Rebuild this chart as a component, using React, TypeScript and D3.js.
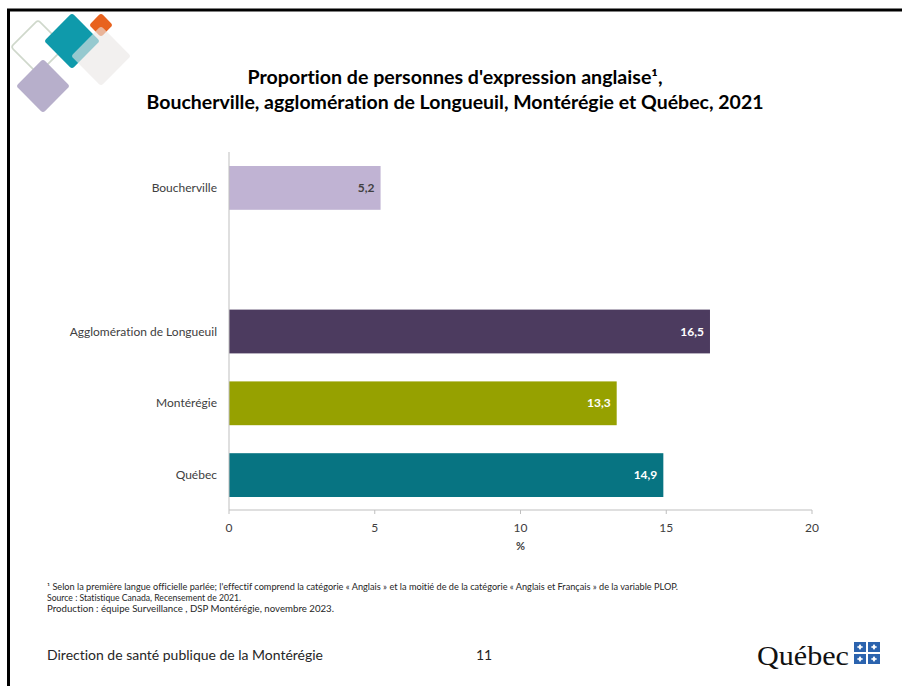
import React from "react";
import * as d3 from "d3";

const categories = ["Boucherville", "", "Agglomération de Longueuil", "Montérégie", "Québec"];
const values: (number | null)[] = [5.2, null, 16.5, 13.3, 14.9];
const valueLabels = ["5,2", "", "16,5", "13,3", "14,9"];
const barColors = ["#C0B3D3", "none", "#4C3B5F", "#96A100", "#077482"];
const labelColors = ["#404040", "none", "#FFFFFF", "#FFFFFF", "#FFFFFF"];
const xTicks = [0, 5, 10, 15, 20];
const titleLines = [
  "Proportion de personnes d'expression anglaise¹,",
  "Boucherville, agglomération de Longueuil, Montérégie et Québec, 2021",
];
const notes = [
  "¹ Selon la première langue officielle parlée; l'effectif comprend la catégorie « Anglais » et la moitié de de la catégorie « Anglais et Français » de la variable PLOP.",
  "Source : Statistique Canada, Recensement de 2021.",
  "Production : équipe Surveillance , DSP Montérégie, novembre 2023.",
];
const footerLeft = "Direction de santé publique de la Montérégie";
const pageNumber = "11";

const W = 902;
const H = 686;
const FONT = "Lato, 'Open Sans', sans-serif";

function Diamond({ cx, cy, r, fill, stroke, opacity, sw }: any) {
  const s = r * Math.SQRT2;
  return (
    <rect
      x={-s / 2}
      y={-s / 2}
      width={s}
      height={s}
      rx={3}
      fill={fill}
      stroke={stroke || "none"}
      strokeWidth={sw || 0}
      opacity={opacity ?? 1}
      transform={`translate(${cx},${cy}) rotate(45)`}
    />
  );
}

export default function App() {
  const x = d3.scaleLinear().domain([0, 20]).range([229, 812]);
  const y = d3
    .scaleBand<string>()
    .domain(categories.map((c, i) => `${i}`))
    .range([152, 511])
    .paddingInner(0.39)
    .paddingOuter(0.195);
  const axisY = 510;

  return (
    <svg
      width={W}
      height={H}
      style={{ position: "absolute", left: 0, top: 0, background: "#fff", fontVariantLigatures: "none" }}
      fontFamily={FONT}
    >
      <rect x={0} y={0} width={W} height={H} fill="#fff" />
      {/* frame */}
      <rect x={8.5} y={10} width={W + 20} height={H + 20} fill="none" stroke="#000" strokeWidth={3} />

      {/* logo */}
      <Diamond cx={38} cy={47} r={27} fill="none" stroke="#CFD8CB" sw={1.6} />
      <Diamond cx={43} cy={86} r={27} fill="#B7AFCB" />
      <Diamond cx={72} cy={41} r={28} fill="#0F9AAB" />
      <Diamond cx={101} cy={25} r={12} fill="#E8621E" />
      <Diamond cx={101} cy={56} r={30} fill="#EAE7E5" opacity={0.62} />

      {/* title */}
      {titleLines.map((t, i) => (
        <text
          key={i}
          x={455}
          y={84 + i * 25}
          textAnchor="middle"
          fontSize={18}
          fontWeight="bold"
          fill="#000"
          textLength={i === 0 ? 415 : 617}
          lengthAdjust="spacingAndGlyphs"
        >
          {t}
        </text>
      ))}

      {/* bars */}
      {categories.map((c, i) => {
        const v = values[i];
        if (v == null) return null;
        const y0 = y(`${i}`)!;
        const bh = y.bandwidth();
        return (
          <g key={i}>
            <rect x={x(0)} y={y0} width={x(v) - x(0)} height={bh} fill={barColors[i]} />
            <text
              x={x(v) - 6}
              y={y0 + bh / 2 + 4}
              textAnchor="end"
              fontSize={12}
              fontWeight="bold"
              fill={labelColors[i]}
            >
              {valueLabels[i]}
            </text>
            <text x={217} y={y0 + bh / 2 + 4} textAnchor="end" fontSize={12} fill="#404040">
              {c}
            </text>
          </g>
        );
      })}

      {/* axes */}
      <line x1={x(0)} x2={x(0)} y1={152} y2={axisY} stroke="#BFBFBF" strokeWidth={1} />
      <line x1={x(0)} x2={x(20)} y1={axisY} y2={axisY} stroke="#BFBFBF" strokeWidth={1} />
      {xTicks.map((t) => (
        <g key={t}>
          <line x1={x(t)} x2={x(t)} y1={axisY} y2={axisY + 4} stroke="#BFBFBF" />
          <text x={x(t)} y={axisY + 22} textAnchor="middle" fontSize={12} fill="#404040">
            {t}
          </text>
        </g>
      ))}
      <text x={x(10)} y={550} textAnchor="middle" fontSize={11} fontWeight="bold" fill="#404040">
        %
      </text>

      {/* notes */}
      {notes.map((n, i) => (
        <text
          key={i}
          x={47}
          y={590 + i * 11}
          fontSize={8.5}
          fill="#262626"
          textLength={i === 0 ? 631 : i === 1 ? 194 : 287}
          lengthAdjust="spacingAndGlyphs"
        >
          {n}
        </text>
      ))}

      {/* footer */}
      <text x={47} y={660} fontSize={14} fill="#262626" textLength={276} lengthAdjust="spacingAndGlyphs">
        {footerLeft}
      </text>
      <text x={476} y={660} fontSize={14} fill="#262626">
        {pageNumber}
      </text>

      {/* Québec logo */}
      <text
        x={757}
        y={665}
        fontSize={28}
        fontFamily="'Liberation Serif', 'DejaVu Serif', serif"
        fill="#111"
        textLength={92}
        lengthAdjust="spacingAndGlyphs"
      >
        Québec
      </text>
      {[0, 1].map((r) =>
        [0, 1].map((cI) => {
          const fx = 854 + cI * 14;
          const fy = 642 + r * 12;
          return (
            <g key={`${r}-${cI}`}>
              <rect x={fx} y={fy} width={12} height={10} fill="#2B63AE" />
              <path
                d={`M${fx + 6},${fy + 2} L${fx + 8},${fy + 5} L${fx + 6},${fy + 8} L${fx + 4},${fy + 5} Z`}
                fill="#fff"
              />
              <rect x={fx + 3} y={fy + 4.5} width={6} height={1} fill="#fff" />
            </g>
          );
        })
      )}
    </svg>
  );
}
